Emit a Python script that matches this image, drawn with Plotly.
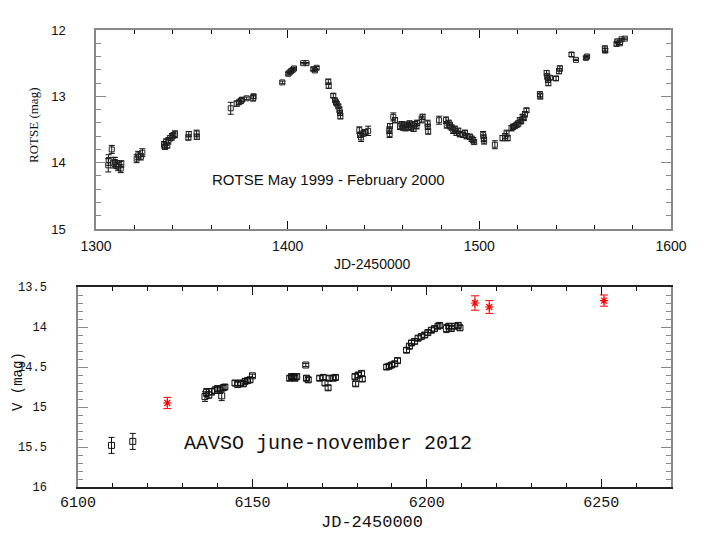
import plotly.graph_objects as go

# ROTSE light curve, May 1999 - February 2000
rotse_jd = [
    1306.4, 1306.6, 1308.2, 1309.0, 1309.9, 1310.8, 1311.6, 1312.9, 1313.2,
    1321.2, 1322.0, 1323.4, 1324.2,
    1335.5, 1336.0, 1336.6, 1337.2, 1337.8, 1338.7, 1339.6, 1340.4, 1341.2,
    1348.2, 1348.4, 1352.5, 1352.6,
    1370.3, 1373.4, 1374.5, 1375.5, 1376.2, 1378.6, 1382.0, 1382.2,
    1397.2, 1400.3, 1401.0, 1401.8, 1402.6, 1403.3, 1408.1, 1409.8,
    1413.4, 1414.2, 1415.1, 1421.2, 1421.4,
    1423.8, 1424.7, 1425.2, 1425.6, 1426.4, 1427.0, 1427.3, 1427.5,
    1437.4, 1437.8, 1438.3, 1439.5, 1440.3, 1442.0,
    1453.0, 1453.2, 1453.4, 1455.1, 1456.0,
    1458.6, 1459.4, 1460.1, 1460.8, 1461.5, 1462.2, 1462.9, 1463.6, 1464.3,
    1465.0, 1465.7, 1466.4, 1467.2, 1467.6, 1469.9, 1470.4,
    1473.0, 1473.3, 1473.1, 1479.0,
    1482.6, 1483.0, 1484.0, 1484.7, 1485.5, 1486.4, 1487.2, 1488.1, 1489.0,
    1489.8, 1491.6, 1492.5, 1493.3, 1495.1, 1496.0, 1496.8, 1497.3,
    1502.0, 1502.3, 1502.5, 1508.1,
    1512.1, 1513.5, 1514.2, 1514.8, 1516.8, 1517.6, 1518.5, 1519.4, 1520.3,
    1521.1, 1521.8, 1522.6, 1523.2, 1523.8, 1524.6,
    1531.6, 1531.8, 1535.1, 1535.4, 1535.8, 1536.0, 1536.8, 1540.0, 1541.6,
    1542.0, 1548.1, 1550.4, 1555.6, 1556.2, 1565.5, 1565.7,
    1571.6, 1572.0, 1573.4, 1574.2, 1575.9,
]
rotse_mag = [
    14.04, 13.96, 13.80, 14.00, 13.99, 14.03, 14.06, 14.09, 14.02,
    13.94, 13.89, 13.91, 13.85,
    13.73, 13.76, 13.69, 13.74, 13.67, 13.63, 13.61, 13.59, 13.57,
    13.62, 13.57, 13.56, 13.61,
    13.18, 13.11, 13.09, 13.07, 13.05, 13.03, 13.03, 13.00,
    12.79, 12.66, 12.64, 12.62, 12.60, 12.58, 12.50, 12.50,
    12.59, 12.61, 12.57, 12.78, 12.84,
    12.99, 13.06, 13.09, 13.11, 13.15, 13.20, 13.25, 13.30,
    13.51, 13.58, 13.62, 13.56, 13.54, 13.52,
    13.51, 13.57, 13.45, 13.31, 13.36,
    13.45, 13.42, 13.47, 13.44, 13.48, 13.43, 13.46, 13.41, 13.47,
    13.44, 13.49, 13.42, 13.45, 13.40, 13.35, 13.31,
    13.41, 13.53, 13.46, 13.36,
    13.36, 13.43, 13.40, 13.44, 13.47, 13.51, 13.49, 13.55, 13.52,
    13.57, 13.58, 13.55, 13.60, 13.61, 13.64, 13.66, 13.69,
    13.58, 13.63, 13.67, 13.73,
    13.63, 13.60, 13.56, 13.63, 13.48, 13.46, 13.45, 13.43, 13.41,
    13.36, 13.38, 13.31, 13.33, 13.27, 13.21,
    12.97, 13.00, 12.65, 12.70, 12.75, 12.80, 12.72, 12.73, 12.62,
    12.58, 12.37, 12.45, 12.42, 12.40, 12.28, 12.31,
    12.21, 12.17, 12.20, 12.14, 12.13,
]
rotse_err = [
    0.10, 0.08, 0.06, 0.08, 0.07, 0.06, 0.06, 0.06, 0.05,
    0.06, 0.06, 0.05, 0.06,
    0.05, 0.04, 0.05, 0.04, 0.05, 0.04, 0.05, 0.04, 0.05,
    0.04, 0.04, 0.05, 0.04,
    0.09, 0.04, 0.03, 0.04, 0.03, 0.02, 0.04, 0.03,
    0.02, 0.02, 0.02, 0.02, 0.02, 0.02, 0.01, 0.01,
    0.02, 0.02, 0.02, 0.04, 0.04,
    0.03, 0.03, 0.03, 0.03, 0.03, 0.04, 0.04, 0.04,
    0.05, 0.04, 0.06, 0.04, 0.04, 0.07,
    0.05, 0.05, 0.04, 0.06, 0.04,
    0.05, 0.04, 0.04, 0.05, 0.04, 0.04, 0.05, 0.04, 0.04,
    0.05, 0.04, 0.04, 0.04, 0.04, 0.05, 0.04,
    0.05, 0.04, 0.04, 0.06,
    0.05, 0.05, 0.04, 0.05, 0.04, 0.05, 0.04, 0.04, 0.04,
    0.04, 0.04, 0.04, 0.04, 0.04, 0.04, 0.04, 0.03,
    0.05, 0.05, 0.05, 0.06,
    0.04, 0.04, 0.05, 0.04, 0.04, 0.04, 0.03, 0.04, 0.04,
    0.04, 0.03, 0.04, 0.03, 0.04, 0.03,
    0.04, 0.04, 0.04, 0.04, 0.04, 0.04, 0.03, 0.03, 0.04,
    0.04, 0.03, 0.01, 0.02, 0.02, 0.04, 0.03,
    0.03, 0.02, 0.02, 0.01, 0.01,
]

# AAVSO V band, june - november 2012
aavso_jd = [
    6109.6, 6115.7,
    6136.4, 6136.8, 6137.5, 6138.3, 6139.3, 6140.0, 6140.7, 6141.2, 6141.6,
    6142.1, 6145.0, 6145.8, 6146.6, 6147.4, 6147.9, 6148.6, 6149.3, 6150.0,
    6160.7, 6161.2, 6161.7, 6162.2, 6162.7, 6165.3, 6165.5, 6166.0,
    6169.3, 6170.3, 6170.8, 6171.7, 6172.0, 6173.2, 6173.8,
    6179.4, 6179.6, 6180.3, 6181.3, 6181.5,
    6188.5, 6189.2, 6189.9, 6190.8, 6191.6,
    6194.2, 6195.0, 6195.6, 6196.5, 6197.5, 6198.4, 6199.4, 6200.3, 6201.3,
    6202.2, 6203.2, 6203.7, 6205.6, 6206.3, 6207.0, 6208.0, 6209.0, 6209.5,
]
aavso_v = [
    15.48, 15.43,
    14.87, 14.82, 14.85, 14.81, 14.79, 14.77, 14.79, 14.86, 14.76,
    14.75, 14.70, 14.72, 14.70, 14.71, 14.68, 14.67, 14.66, 14.61,
    14.64, 14.62, 14.62, 14.64, 14.62, 14.475, 14.64, 14.66,
    14.64, 14.63, 14.70, 14.76, 14.64, 14.64, 14.63,
    14.62, 14.71, 14.60, 14.58, 14.65,
    14.50, 14.49, 14.475, 14.46, 14.42,
    14.29, 14.24, 14.20, 14.18, 14.14, 14.12, 14.10, 14.07, 14.04,
    14.02, 13.99, 13.98, 14.02, 13.99, 14.02, 13.99, 13.98, 14.01,
]
aavso_err = [
    0.10, 0.10,
    0.06, 0.05, 0.04, 0.04, 0.04, 0.03, 0.04, 0.06, 0.03,
    0.03, 0.03, 0.03, 0.03, 0.03, 0.03, 0.03, 0.03, 0.02,
    0.03, 0.03, 0.03, 0.03, 0.03, 0.02, 0.03, 0.03,
    0.03, 0.03, 0.03, 0.03, 0.03, 0.03, 0.03,
    0.03, 0.03, 0.03, 0.03, 0.03,
    0.03, 0.03, 0.03, 0.03, 0.03,
    0.03, 0.03, 0.03, 0.03, 0.03, 0.03, 0.03, 0.03, 0.03,
    0.03, 0.03, 0.03, 0.05, 0.03, 0.03, 0.03, 0.03, 0.03,
]

# highlighted (red) points
red_jd = [6125.6, 6213.8, 6217.9, 6250.8]
red_v = [14.95, 13.70, 13.75, 13.67]
red_err = [0.07, 0.09, 0.08, 0.07]

W, H = 708, 545
OFF = 8  # page body margin of the html output
SANS = "Liberation Sans"
MONO = "Liberation Mono"
SERIF = "Liberation Serif"


def px(x):
    """Page pixel x -> paper fraction."""
    return (x - OFF) / W


def py(y):
    """Page pixel y -> paper fraction."""
    return 1 - (y - OFF) / H


fig = go.Figure()

fig.add_trace(
    go.Scatter(
        x=rotse_jd,
        y=rotse_mag,
        mode="markers",
        marker={"symbol": "square-open", "size": 5, "color": "#222",
                "line": {"width": 1, "color": "#222"}},
        error_y={"type": "data", "array": rotse_err, "color": "#111",
                 "thickness": 1, "width": 3},
        xaxis="x", yaxis="y",
        showlegend=False,
    )
)

fig.add_trace(
    go.Scatter(
        x=aavso_jd,
        y=aavso_v,
        mode="markers",
        marker={"symbol": "square-open", "size": 6, "color": "#111",
                "line": {"width": 1, "color": "#111"}},
        error_y={"type": "data", "array": aavso_err, "color": "#111",
                 "thickness": 1, "width": 3},
        xaxis="x2", yaxis="y2",
        showlegend=False,
    )
)

fig.add_trace(
    go.Scatter(
        x=red_jd,
        y=red_v,
        mode="markers",
        marker={"symbol": "asterisk-open", "size": 7, "color": "red",
                "line": {"width": 1.2, "color": "red"}},
        error_y={"type": "data", "array": red_err, "color": "red",
                 "thickness": 1, "width": 4},
        xaxis="x2", yaxis="y2",
        showlegend=False,
    )
)

fig.update_layout(
    # top panel (ROTSE)
    xaxis=dict(
        domain=[px(96), px(671)], anchor="y", range=[1300, 1600],
        dtick=100, ticks="inside", ticklen=8, tickcolor="#111",
        minor=dict(dtick=20, ticks="inside", ticklen=4, tickcolor="#111"),
        showline=True, linecolor="#888", linewidth=1.5, mirror="ticks",
        showgrid=False, zeroline=False, ticklabelstandoff=3, automargin=False,
        tickfont=dict(family=SANS, size=14, color="#111"),
    ),
    yaxis=dict(
        domain=[py(229), py(30)], anchor="x", range=[15, 12],
        dtick=1, ticks="inside", ticklen=10, tickcolor="#888",
        minor=dict(dtick=0.2, ticks="inside", ticklen=5, tickcolor="#888"),
        showline=True, linecolor="#888", linewidth=1.5, mirror="ticks",
        showgrid=False, zeroline=False, ticklabelstandoff=26, automargin=False,
        tickfont=dict(family=SANS, size=13, color="#111"),
    ),
    # bottom panel (AAVSO)
    xaxis2=dict(
        domain=[px(78), px(671)], anchor="y2", range=[6100, 6270],
        dtick=50, ticks="inside", ticklen=8, tickcolor="#111",
        minor=dict(dtick=10, ticks="inside", ticklen=4, tickcolor="#111"),
        showline=True, linecolor="#222", linewidth=1.5, mirror="ticks",
        showgrid=False, zeroline=False, ticklabelstandoff=0, automargin=False,
        tickfont=dict(family=MONO, size=15, color="#111"),
    ),
    yaxis2=dict(
        domain=[py(487), py(287)], anchor="x2", range=[16, 13.5],
        dtick=0.5, ticks="inside", ticklen=10, tickcolor="#888",
        minor=dict(dtick=0.1, ticks="inside", ticklen=5, tickcolor="#888"),
        showline=True, linecolor="#888", linewidth=1.5, mirror="ticks",
        showgrid=False, zeroline=False, ticklabelstandoff=27, automargin=False,
        tickfont=dict(family=MONO, size=12, color="#111"),
    ),
)

annotations = [
    dict(text="ROTSE May 1999 - February 2000", x=1359.5, y=14.26,
         xref="x", yref="y", xanchor="left", yanchor="middle", showarrow=False,
         font=dict(family=SANS, size=15, color="#111")),
    dict(text="AAVSO june-november 2012", x=6129.8, y=15.45,
         xref="x2", yref="y2", xanchor="left", yanchor="middle", showarrow=False,
         font=dict(family=MONO, size=20, color="#111")),
    dict(text="ROTSE (mag)", x=px(33), y=py(126), xref="paper", yref="paper",
         xanchor="center", yanchor="middle", textangle=-90, showarrow=False,
         font=dict(family=SERIF, size=13, color="#111")),
    dict(text="JD-2450000", x=px(372), y=py(264), xref="paper", yref="paper",
         xanchor="center", yanchor="middle", showarrow=False,
         font=dict(family=SANS, size=14, color="#111")),
    dict(text="V (mag)", x=px(18), y=py(382), xref="paper", yref="paper",
         xanchor="center", yanchor="middle", textangle=-90, showarrow=False,
         font=dict(family=MONO, size=14, color="#111")),
    dict(text="JD-2450000", x=px(372), y=py(522), xref="paper", yref="paper",
         xanchor="center", yanchor="middle", showarrow=False,
         font=dict(family=MONO, size=17, color="#111")),
]

fig.update_layout(
    width=W,
    height=H,
    margin=dict(l=0, r=0, t=0, b=0),
    paper_bgcolor="white",
    plot_bgcolor="white",
    annotations=annotations,
)

fig.write_html("out.html")
